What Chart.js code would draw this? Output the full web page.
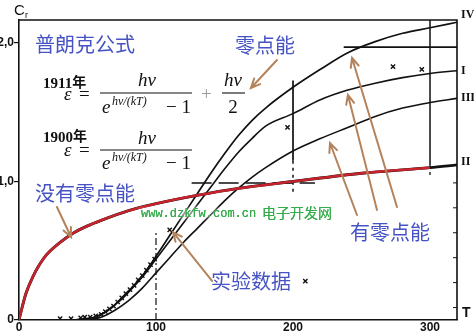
<!DOCTYPE html>
<html>
<head>
<meta charset="utf-8">
<script src="https://cdn.jsdelivr.net/npm/chart.js@4.4.1/dist/chart.umd.min.js"></script>
<style>
  html, body { margin: 0; padding: 0; background: #fff; }
  #wrap { width: 474px; height: 334px; }
</style>
</head>
<body>
<div id="wrap"><canvas id="c" width="474" height="334"></canvas></div>
<script>
// Rotational heat capacity C_r of hydrogen versus temperature T (K)

// Curve IV
const tIV = [40, 50, 55, 60, 65, 70, 75, 80, 90, 100, 110, 120, 130, 140, 150, 160, 170, 180, 200, 220, 240, 260, 280, 300, 319.7];
const cIV = [0, 0.01, 0.02, 0.04, 0.07, 0.11, 0.16, 0.21, 0.32, 0.46, 0.61, 0.76, 0.91, 1.06, 1.2, 1.33, 1.44, 1.53, 1.68, 1.81, 1.93, 2.01, 2.07, 2.11, 2.15];

// Curve I
const tI = [40, 50, 55, 60, 65, 70, 75, 80, 90, 100, 110, 120, 130, 140, 150, 160, 170, 180, 200, 220, 240, 260, 280, 300, 319.7];
const cI = [0, 0.01, 0.02, 0.04, 0.07, 0.11, 0.15, 0.2, 0.31, 0.44, 0.57, 0.7, 0.83, 0.96, 1.09, 1.21, 1.31, 1.4, 1.49, 1.59, 1.66, 1.71, 1.75, 1.78, 1.8];

// Curve III
const tIII = [45, 55, 60, 70, 80, 90, 100, 110, 120, 130, 140, 150, 160, 170, 180, 200, 220, 240, 260, 280, 300, 319.7];
const cIII = [0, 0.01, 0.02, 0.07, 0.14, 0.23, 0.34, 0.45, 0.56, 0.66, 0.76, 0.86, 0.95, 1.03, 1.1, 1.22, 1.31, 1.39, 1.47, 1.53, 1.57, 1.6];

// Curve II (Planck 1900, no zero-point energy)
const tII = [0, 2, 5, 10, 15, 20, 30, 40, 50, 60, 80, 100, 130, 160, 200, 250, 300, 319.7];
const cII = [0, 0.08, 0.19, 0.31, 0.4, 0.47, 0.56, 0.63, 0.68, 0.72, 0.79, 0.84, 0.9, 0.95, 1.0, 1.06, 1.1, 1.12];

// Measured points
const tMeas = [30, 38, 45, 48, 52, 56, 60, 63, 66, 69, 72, 75, 78, 81, 84, 87, 90, 93, 96, 99, 110, 196, 209, 273, 294];
const cMeas = [0.01, 0.01, 0.015, 0.02, 0.02, 0.03, 0.04, 0.06, 0.08, 0.1, 0.13, 0.16, 0.19, 0.22, 0.25, 0.29, 0.32, 0.36, 0.4, 0.44, 0.65, 1.39, 0.28, 1.83, 1.81];

// Guide lines: [T, C] end points
const guideT100 = [[100, 0], [100, 0.63]];
const guideT200Solid = [[200, 1.73], [200, 1.15]];
const guideT200Dash = [[200, 1.15], [200, 0.92]];
const guideT300Solid = [[300, 2.166], [300, 1.12]];
const guideT300Dash = [[300, 1.12], [300, 1.02]];
const guideC2 = [[237, 1.97], [319.7, 1.97]];
const guideC1 = [[126, 0.99], [216, 0.99]];

// Axis ticks
const xTickValues = [0, 100, 200, 300];
const xTickLabels = ['0', '100', '200', '300'];
const yTickValues = [0, 1, 2];
const yTickLabels = ['0', '1,0', '2,0'];
const rightMinorTicks = [0.09, 0.27, 0.45, 0.63, 0.81, 0.99];

// Curve names on the right-hand side
const curveNames = ['IV', 'I', 'III', 'II'];
const curveNameLevels = [2.2, 1.8, 1.6, 1.14];

const pts = (xs, ys) => xs.map((x, i) => ({ x, y: ys[i] }));
const segPts = seg => seg.map(p => ({ x: p[0], y: p[1] }));

const curveStyle = (w) => ({
  showLine: true, pointRadius: 0, borderColor: '#111', borderWidth: w,
  cubicInterpolationMode: 'monotone', fill: false
});
const guideStyle = (w, dash) => ({
  showLine: true, pointRadius: 0, borderColor: '#111', borderWidth: w,
  borderDash: dash || [], fill: false, tension: 0
});

const datasets = [
  Object.assign({ label: 'II (red)', data: pts(tII.slice(0, -1), cII.slice(0, -1)), order: 0 }, curveStyle(2.5), { borderColor: '#c8232c' }),
  Object.assign({ label: 'II', data: pts(tII, cII), order: 1 }, curveStyle(2.9)),
  Object.assign({ label: 'IV', data: pts(tIV, cIV), order: 2 }, curveStyle(1.7)),
  Object.assign({ label: 'I', data: pts(tI, cI), order: 3 }, curveStyle(1.6)),
  Object.assign({ label: 'III', data: pts(tIII, cIII), order: 4 }, curveStyle(1.6)),
  Object.assign({ label: 'g1', data: segPts(guideT100), order: 5 }, guideStyle(1.2, [7, 3, 2, 3])),
  Object.assign({ label: 'g2', data: segPts(guideT200Solid), order: 5 }, guideStyle(1.7)),
  Object.assign({ label: 'g3', data: segPts(guideT200Dash), order: 5 }, guideStyle(1.5, [3, 4])),
  Object.assign({ label: 'g4', data: segPts(guideT300Solid), order: 5 }, guideStyle(1.5)),
  Object.assign({ label: 'g5', data: segPts(guideT300Dash), order: 5 }, guideStyle(1.3, [3, 4])),
  Object.assign({ label: 'g6', data: segPts(guideC2), order: 5 }, guideStyle(1.7)),
  Object.assign({ label: 'g7', data: segPts(guideC1), order: 5 }, guideStyle(1.5, [20, 7])),
  {
    label: 'measured', data: pts(tMeas, cMeas), showLine: false, order: 1,
    pointStyle: 'crossRot', pointRadius: 3, borderColor: '#111', backgroundColor: '#111', borderWidth: 1.4
  }
];

const BLUE = '#4653c4';
const BROWN = '#b4835c';
const GREEN = '#35ad4c';

function arrow(ctx, x1, y1, x2, y2) {
  const ang = Math.atan2(y2 - y1, x2 - x1);
  const L = 10, spread = 0.42;
  ctx.beginPath();
  ctx.moveTo(x1, y1); ctx.lineTo(x2, y2);
  ctx.moveTo(x2 - L * Math.cos(ang - spread), y2 - L * Math.sin(ang - spread));
  ctx.lineTo(x2, y2);
  ctx.lineTo(x2 - L * Math.cos(ang + spread), y2 - L * Math.sin(ang + spread));
  ctx.stroke();
}

function formula(ctx, yearText, yY, eqY, barY, numY, denY, supY, withHalf) {
  ctx.fillStyle = '#111';
  ctx.textAlign = 'left';
  ctx.textBaseline = 'alphabetic';
  ctx.font = 'bold 15px "Liberation Serif"';
  ctx.fillText(yearText, 43, yY);
  const w = ctx.measureText(yearText).width;
  ctx.font = 'bold 14px "Noto Sans CJK SC"';
  ctx.fillText('年', 43 + w, yY - 1);

  ctx.font = 'italic 19px "Liberation Serif"';
  ctx.fillText('ε', 64, eqY);
  ctx.font = '19px "Liberation Serif"';
  ctx.fillText('=', 79, eqY);

  // main fraction
  ctx.strokeStyle = '#111';
  ctx.lineWidth = 1.1;
  ctx.beginPath(); ctx.moveTo(100, barY); ctx.lineTo(192, barY); ctx.stroke();
  ctx.font = 'italic 19px "Liberation Serif"';
  ctx.textAlign = 'center';
  ctx.fillText('hν', 147, numY);
  ctx.textAlign = 'left';
  ctx.fillText('e', 102, denY);
  ctx.font = 'italic 12px "Liberation Serif"';
  ctx.fillText('hν/(kT)', 112, supY);
  ctx.font = '19px "Liberation Serif"';
  ctx.fillText('− 1', 166, denY);

  if (withHalf) {
    ctx.fillStyle = '#9a9a9a';
    ctx.fillText('+', 201, eqY);
    ctx.fillStyle = '#111';
    ctx.beginPath(); ctx.moveTo(222, barY); ctx.lineTo(245, barY); ctx.stroke();
    ctx.textAlign = 'center';
    ctx.font = 'italic 19px "Liberation Serif"';
    ctx.fillText('hν', 233, numY);
    ctx.font = '19px "Liberation Serif"';
    ctx.fillText('2', 233, denY);
  }
}

const overlay = {
  id: 'overlay',
  afterDatasetsDraw(chart) {
    const { ctx, chartArea: a, scales: { x, y } } = chart;
    const px = v => x.getPixelForValue(v);
    const py = v => y.getPixelForValue(v);
    ctx.save();

    // frame: top and right edges
    ctx.strokeStyle = '#111';
    ctx.lineWidth = 1.6;
    ctx.beginPath();
    ctx.moveTo(a.left, a.top); ctx.lineTo(a.right, a.top); ctx.lineTo(a.right, a.bottom);
    ctx.stroke();
    ctx.lineWidth = 1;
    rightMinorTicks.forEach(v => {
      ctx.beginPath(); ctx.moveTo(a.right, py(v)); ctx.lineTo(a.right - 4, py(v)); ctx.stroke();
    });

    // curve names on the right
    ctx.fillStyle = '#111';
    ctx.textAlign = 'left';
    ctx.textBaseline = 'middle';
    ctx.font = 'bold 12px "Liberation Serif"';
    curveNames.forEach((n, i) => ctx.fillText(n, a.right + 4, py(curveNameLevels[i])));
    ctx.font = 'bold 14px "Liberation Sans"';
    ctx.fillText('T', a.right + 5, a.bottom - 7);

    // axis title C_r
    ctx.textBaseline = 'alphabetic';
    ctx.font = '15px "Liberation Sans"';
    ctx.fillText('C', 14, 15);
    ctx.font = '9px "Liberation Sans"';
    ctx.fillText('r', 25, 18);

    // formulas
    formula(ctx, '1911', 88, 100, 93, 86, 113, 105, true);
    formula(ctx, '1900', 142, 156, 150, 144, 169, 161, false);

    // arrows
    ctx.strokeStyle = BROWN;
    ctx.lineWidth = 2;
    ctx.lineCap = 'round';
    arrow(ctx, px(188.3), py(1.877), px(169.3), py(1.675));
    arrow(ctx, px(27.7), py(0.816), px(38.0), py(0.599));
    arrow(ctx, px(140.9), py(0.282), px(112.4), py(0.635));
    arrow(ctx, px(275.9), py(0.816), px(243.1), py(1.892));
    arrow(ctx, px(261.3), py(0.794), px(240.1), py(1.625));
    arrow(ctx, px(246.7), py(0.758), px(227.0), py(1.278));

    // Chinese captions
    ctx.fillStyle = BLUE;
    ctx.textBaseline = 'middle';
    ctx.textAlign = 'left';
    ctx.font = '20px "Noto Sans CJK SC"';
    ctx.fillText('普朗克公式', 35, 44);
    ctx.fillText('零点能', 235, 45);
    ctx.fillText('没有零点能', 35, 193);
    ctx.fillText('实验数据', 211, 281);
    ctx.fillText('有零点能', 350, 232);

    // site watermark
    ctx.shadowColor = 'rgba(255,255,255,1)';
    ctx.shadowBlur = 5;
    ctx.fillStyle = GREEN;
    ctx.font = '12px "Liberation Mono"';
    for (let k = 0; k < 3; k++) ctx.fillText('www.dzkfw.com.cn', 141, 214);
    ctx.font = '14px "Noto Sans CJK SC"';
    for (let k = 0; k < 3; k++) ctx.fillText('电子开发网', 262, 213);

    ctx.restore();
  }
};

Chart.defaults.font.family = '"Liberation Sans", Arial, sans-serif';

new Chart(document.getElementById('c'), {
  type: 'scatter',
  data: { datasets },
  options: {
    responsive: false,
    animation: false,
    layout: { padding: { left: 0, right: 17, top: 20, bottom: 0 } },
    plugins: { legend: { display: false }, tooltip: { enabled: false } },
    scales: {
      x: {
        type: 'linear', min: 0, max: 319.7,
        afterBuildTicks: s => { s.ticks = xTickValues.map(v => ({ value: v })); },
        afterFit: s => { s.height = 14; },
        grid: { display: false, drawTicks: false },
        border: { display: true, color: '#111', width: 1.6 },
        ticks: {
          autoSkip: false, maxRotation: 0, padding: 0, color: '#111',
          font: { size: 12, weight: 'bold' },
          callback: v => xTickLabels[xTickValues.indexOf(v)]
        }
      },
      y: {
        type: 'linear', min: 0, max: 2.166,
        afterBuildTicks: s => { s.ticks = yTickValues.map(v => ({ value: v })); },
        afterFit: s => { s.width = 19; },
        grid: { display: true, drawOnChartArea: false, drawTicks: true, tickLength: 5, color: '#111', lineWidth: 1.2 },
        border: { display: true, color: '#111', width: 1.6 },
        ticks: {
          padding: 0, color: '#111',
          font: { size: 12, weight: 'bold' },
          callback: v => yTickLabels[yTickValues.indexOf(v)]
        }
      }
    }
  },
  plugins: [overlay]
});
</script>
</body>
</html>
